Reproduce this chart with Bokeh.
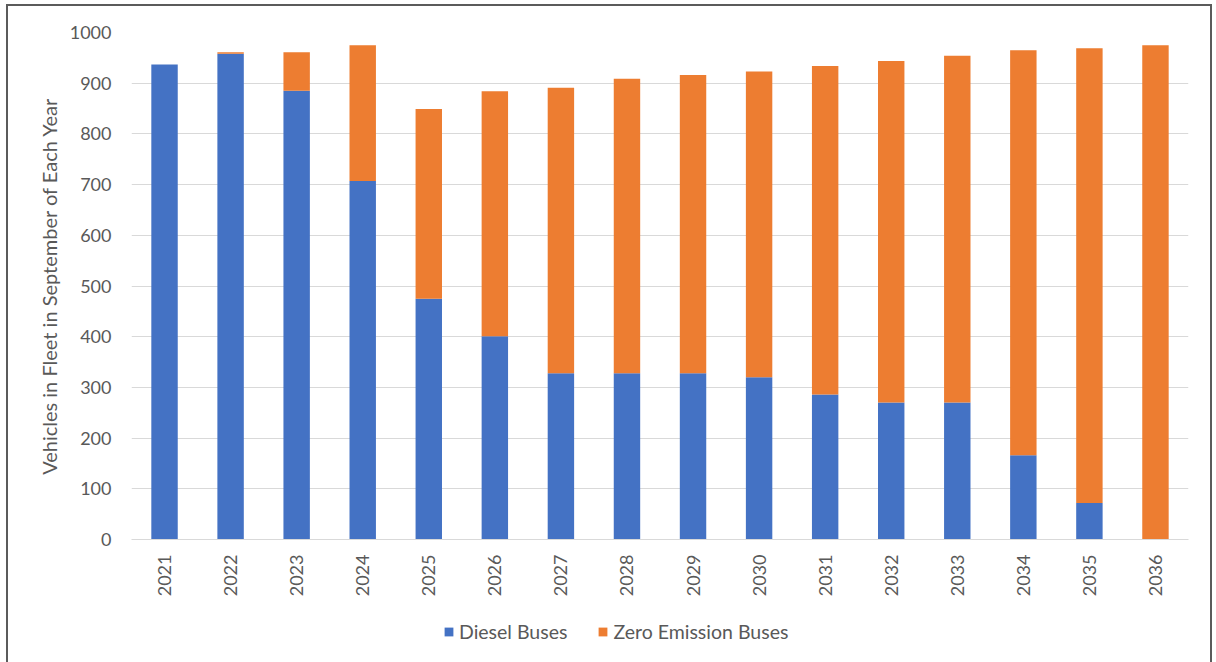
from bokeh.plotting import figure
from bokeh.layouts import column
from bokeh.models import FactorRange, Range1d, Legend, LegendItem, ColumnDataSource, FixedTicker
from bokeh.embed import file_html
from bokeh.resources import INLINE
import math

years = ["2021", "2022", "2023", "2024", "2025", "2026", "2027", "2028",
         "2029", "2030", "2031", "2032", "2033", "2034", "2035", "2036"]
diesel = [937, 958, 885, 707, 475, 401, 328, 328, 328, 320, 286, 270, 270, 166, 72, 0]
zero_emission = [0, 3, 76, 268, 374, 483, 563, 581, 588, 603, 648, 674, 684, 799, 897, 975]
series = ["Diesel Buses", "Zero Emission Buses"]
colors = ["#4472C4", "#ED7D31"]
y_ticks = [0, 100, 200, 300, 400, 500, 600, 700, 800, 900, 1000]

FONT = "Lato"
TXT = "#595959"

src = ColumnDataSource(dict(year=years, d=diesel, z=zero_emission))

p = figure(
    x_range=FactorRange(*years), y_range=Range1d(0, 1000),
    width=1202, height=599,
    output_backend="svg", toolbar_location=None,
    min_border_left=123, min_border_right=22, min_border_top=26, min_border_bottom=66,
)
p.outline_line_color = None

rs = p.vbar_stack(["d", "z"], x="year", width=0.4, color=colors, line_color=None, source=src)

p.xgrid.grid_line_color = None
p.ygrid.grid_line_color = "#d9d9d9"
p.ygrid.grid_line_width = 1

p.yaxis.ticker = FixedTicker(ticks=y_ticks)
p.yaxis.axis_line_color = None
p.yaxis.major_tick_line_color = None
p.yaxis.minor_tick_line_color = None
p.yaxis.major_label_standoff = 14
p.yaxis.major_label_text_font = FONT
p.yaxis.major_label_text_font_size = "18px"
p.yaxis.major_label_text_color = TXT
p.yaxis.axis_label = "Vehicles in Fleet in September of Each Year"
p.yaxis.axis_label_text_font = FONT
p.yaxis.axis_label_text_font_size = "20px"
p.yaxis.axis_label_text_font_style = "normal"
p.yaxis.axis_label_text_color = TXT
p.yaxis.axis_label_standoff = 6

p.xaxis.axis_line_color = "#d9d9d9"
p.xaxis.axis_line_width = 1
p.xaxis.major_tick_line_color = None
p.xaxis.minor_tick_line_color = None
p.xaxis.major_label_orientation = math.pi / 2
p.xaxis.major_label_standoff = 9
p.xaxis.major_label_text_font = FONT
p.xaxis.major_label_text_font_size = "18px"
p.xaxis.major_label_text_color = TXT

# legend strip below the chart
p2 = figure(
    x_range=Range1d(0, 1), y_range=Range1d(0, 1),
    width=1202, height=57,
    output_backend="svg", toolbar_location=None,
    min_border=0, x_axis_location=None, y_axis_location=None,
)
p2.grid.visible = False
p2.outline_line_color = None
lsrc = ColumnDataSource(dict(x=[5.0], top=[0.0]))  # zero-height, off-view: legend swatches only
l1 = p2.vbar(x="x", top="top", width=0.01, color=colors[0], line_color=None, source=lsrc)
l2 = p2.vbar(x="x", top="top", width=0.01, color=colors[1], line_color=None, source=lsrc)

legend = Legend(
    items=[LegendItem(label=series[0], renderers=[l1]),
           LegendItem(label=series[1], renderers=[l2])],
    orientation="horizontal", location=(312, 19),
    glyph_width=11, glyph_height=11, label_standoff=5, spacing=30,
    padding=0, margin=0,
    label_text_font=FONT, label_text_font_size="19.5px", label_text_color=TXT,
    border_line_color=None, background_fill_alpha=0,
)
p2.add_layout(legend, "center")

layout = column(p, p2, spacing=0)
layout.margin = (4, 0, 0, 6)
layout.styles = {"border-top": "2px solid #5b5b5b", "border-left": "2px solid #5b5b5b",
                 "border-right": "2px solid #5b5b5b"}

open("out.html", "w").write(file_html(layout, INLINE))
